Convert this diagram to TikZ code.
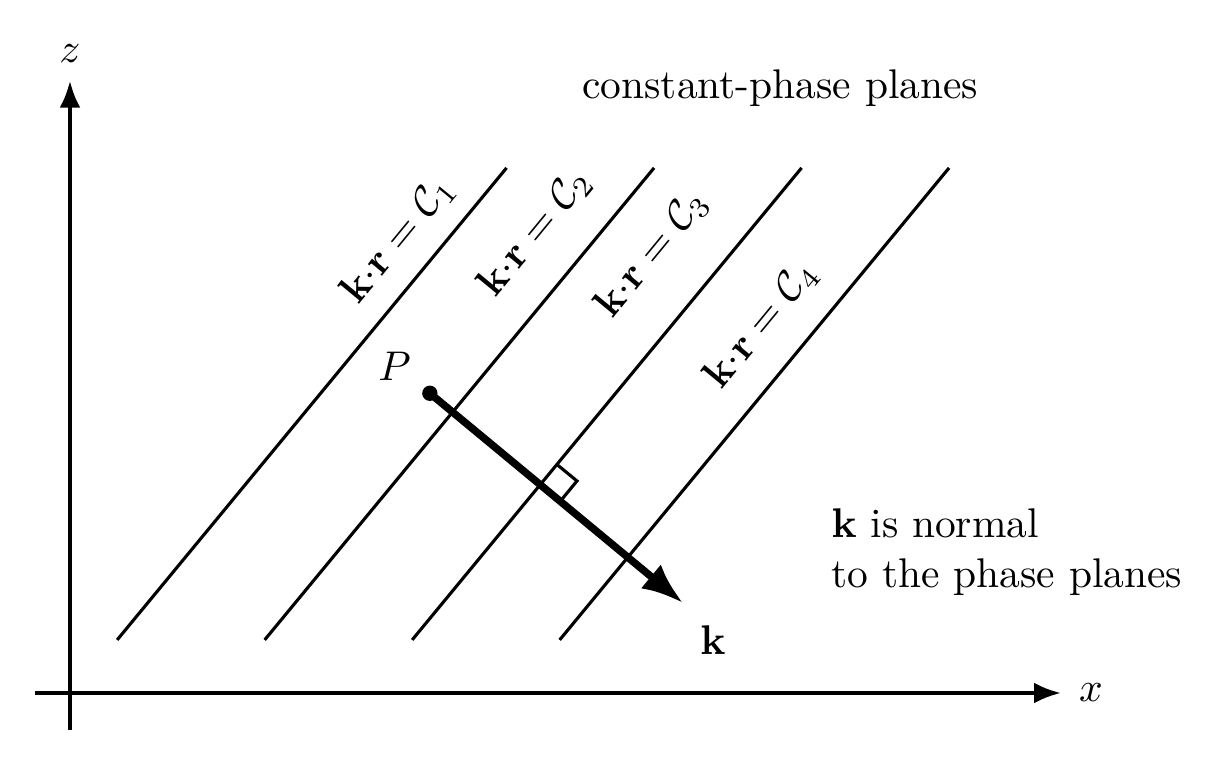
\documentclass[tikz,border=0pt]{standalone}
\usetikzlibrary{arrows.meta}

\begin{document}
\begin{tikzpicture}[scale=1,
    plane/.style={line width=0.75pt},
    axis/.style={line width=1pt, -{Latex[length=6.5pt,width=5pt]}},
    planelabel/.style={rotate=50.5, inner sep=0pt}]
  \useasboundingbox (-0.593,-0.610) rectangle (9.797,5.873);
  \path (0,0) coordinate (origin);

  \draw [axis] (-0.3,0) -- (8.4,0) node[right=0.5pt] (xlab) {$x$};
  \draw [axis] (0,-0.31) -- (0,5.19) node[above=0.5pt] (zlab) {$z$};

  \draw [plane] (0.4,0.45) -- ++(3.3,4);
  \draw [plane] (1.65,0.45) -- ++(3.3,4);
  \draw [plane] (2.9,0.45) -- ++(3.3,4);
  \draw [plane] (4.15,0.45) -- ++(3.3,4);

  \node [planelabel] (c1) at (2.78,3.84) {$\mathbf{k}{\cdot}\mathbf{r}=\mathcal{C}_1$};
  \node [planelabel] (c2) at (3.94,3.90) {$\mathbf{k}{\cdot}\mathbf{r}=\mathcal{C}_2$};
  \node [planelabel] (c3) at (4.93,3.72) {$\mathbf{k}{\cdot}\mathbf{r}=\mathcal{C}_3$};
  \node [planelabel] (c4) at (5.86,3.12) {$\mathbf{k}{\cdot}\mathbf{r}=\mathcal{C}_4$};

  \path (3.05,2.54) coordinate (P) (5.195,0.763) coordinate (tip)
        (3.987,1.767) coordinate (Q);
  \draw [line width=1.8pt, -{Latex[length=10pt,width=7.5pt]}] (P) -- (tip);
  \fill (P) circle (0.065);
  \node (plab) at (2.75,2.77) {$P$};
  \node (klab) at (5.45,0.45) {$\mathbf{k}$};

  % right angle
  \draw [line width=0.75pt] (Q) ++(50.5:0.22) -- ++(-39.5:0.22) -- ++(230.5:0.22);

  \node (title) at (6.02,5.13) {constant-phase planes};
  \node [align=left, anchor=west] (note) at (6.33,1.195)
        {$\mathbf{k}$ is normal\\to the phase planes};
\end{tikzpicture}
\end{document}
